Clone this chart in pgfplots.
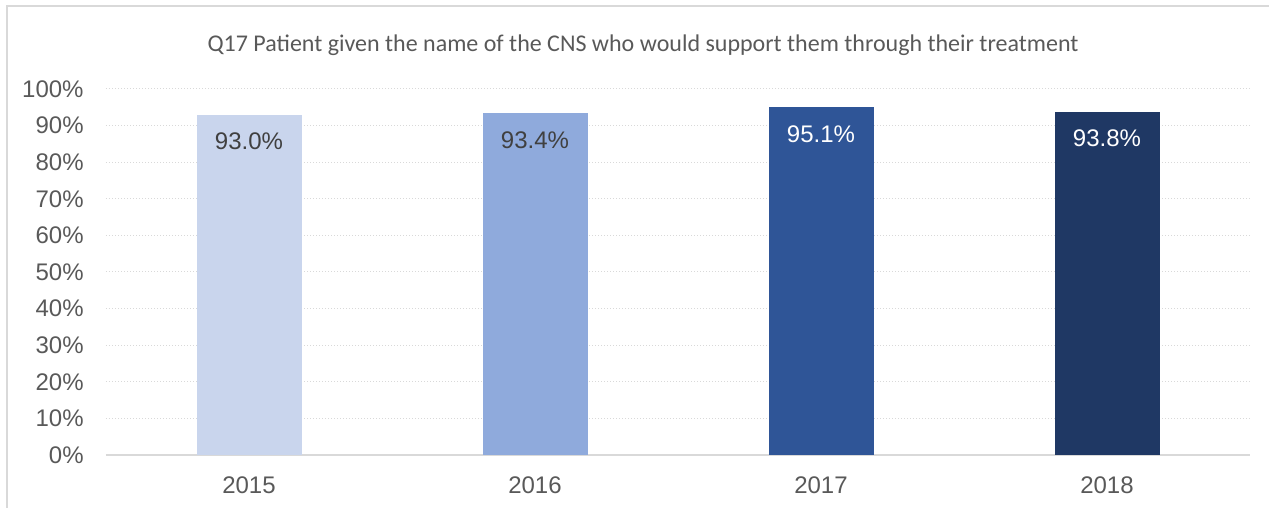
\documentclass[border=0pt]{standalone}
\usepackage{fontspec}
\setmainfont{Liberation Sans}
\newfontfamily\titlefont{Carlito}
\usepackage{pgfplots}
\pgfplotsset{compat=1.18}

\definecolor{barA}{HTML}{C9D5ED}
\definecolor{barB}{HTML}{8FAADC}
\definecolor{barC}{HTML}{2F5597}
\definecolor{barD}{HTML}{1F3864}
\definecolor{txtgray}{HTML}{595959}
\definecolor{lblgray}{HTML}{404040}
\definecolor{gridgray}{HTML}{D9D9D9}

\begin{document}
\begin{tikzpicture}
% 1px of the reference = 0.5pt, origin at the axis' lower-left corner
\path[use as bounding box] (-53pt,-26.5pt) rectangle (581.5pt,227.5pt);
\draw[gridgray, line width=0.8pt] (-49.5pt,-40pt) -- (-49.5pt,224.5pt) -- (620pt,224.5pt);

\node[txtgray, font=\titlefont\fontsize{12}{14}\selectfont] at (268.5pt,205pt)
  {Q17 Patient given the name of the CNS who would support them through their treatment};

\begin{axis}[
    at={(0pt,0pt)}, anchor=south west,
    scale only axis,
    width=572pt, height=183pt,
    ybar, bar width=52.5pt, bar shift=0pt,
    xmin=-0.5, xmax=3.5,
    ymin=0, ymax=100,
    xtick={0,1,2,3},
    xticklabels={2015,2016,2017,2018},
    ytick={0,10,...,100},
    yticklabel={\pgfmathprintnumber{\tick}\%},
    /pgf/number format/assume math mode=true,
    major tick length=0pt,
    axis x line*=bottom,
    axis y line*=left,
    x axis line style={-, draw=gridgray, line width=0.8pt},
    y axis line style={draw=none},
    ymajorgrids,
    grid style={gridgray, line width=0.5pt, dash pattern=on 0.5pt off 1pt},
    tick label style={font=\fontsize{12}{14}\selectfont, text=txtgray},
    yticklabel style={anchor=east, inner sep=0pt, xshift=-11pt},
    xticklabel style={anchor=north, inner sep=0pt, yshift=-10.5pt},
    nodes near coords={\pgfmathprintnumber[fixed,fixed zerofill,precision=1]{\pgfplotspointmeta}\%},
    every node near coord/.append style={anchor=center, yshift=-13.5pt,
        font=\fontsize{12}{14}\selectfont},
]
\addplot[fill=barA, draw=none, nodes near coords style={text=lblgray}] coordinates {(0,93.0)};
\addplot[fill=barB, draw=none, nodes near coords style={text=lblgray}] coordinates {(1,93.4)};
\addplot[fill=barC, draw=none, nodes near coords style={text=white}] coordinates {(2,95.1)};
\addplot[fill=barD, draw=none, nodes near coords style={text=white}] coordinates {(3,93.8)};
\end{axis}
\end{tikzpicture}
\end{document}
